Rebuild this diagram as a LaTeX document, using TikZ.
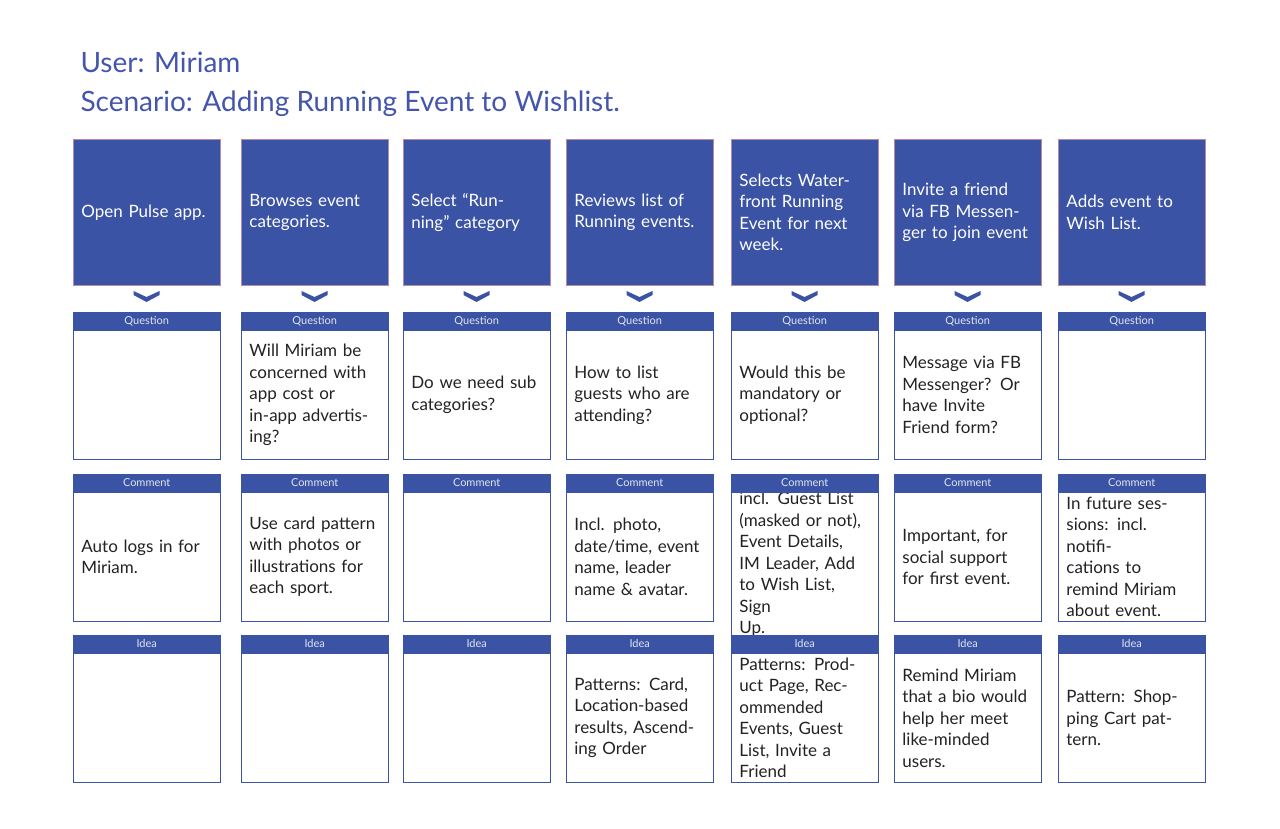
\documentclass[tikz,border=0pt]{standalone}
\usepackage{fontspec}
\setmainfont{Lato}
\usepackage{tikz}

\definecolor{PulseBlue}{HTML}{3A53A4}
\definecolor{TitleBlue}{HTML}{4355AC}
\definecolor{EdgePink}{HTML}{B88AA6}
\definecolor{BodyText}{HTML}{222222}

\tikzset{
  stepcard/.style={fill=PulseBlue, draw=EdgePink, line width=0.8pt, minimum width=147pt, minimum height=146pt,
    text width=131pt, align=left, text=white, font=\fontsize{17}{21.5}\selectfont, inner sep=0pt},
  cardhead/.style={fill=PulseBlue, draw=PulseBlue, minimum width=147pt, minimum height=18pt, inner sep=0pt,
    text=white!85!PulseBlue, font=\fontsize{11}{12}\selectfont},
  cardbody/.style={draw=PulseBlue, line width=0.8pt, minimum width=147pt, minimum height=129pt,
    text width=131pt, align=left, text=BodyText, font=\fontsize{17}{21.5}\selectfont, inner sep=0pt},
  chevron/.style={fill=PulseBlue, draw=none},
}

\begin{document}
\begin{tikzpicture}[x=1pt, y=-1pt]
	\useasboundingbox (0,0) rectangle (1280,828);

	\node[anchor=base west, text=TitleBlue, font=\fontsize{28}{30}\selectfont] (user) at (77,72) {User: Miriam};
	\node[anchor=base west, text=TitleBlue, font=\fontsize{28}{30}\selectfont] (scenario) at (77,111) {Scenario: Adding Running Event to Wishlist.};

	\foreach \k/\xl/\stp/\qs/\cm/\id in {
		1/73/{Open Pulse app.}/{}/{Auto logs in for\\Miriam.}/{},
		2/241/{Browses event\\categories.}/{Will Miriam be\\concerned with\\app cost or\\in-app advertis-\\ing?}/{Use card pattern\\with photos or\\illustrations for\\each sport.}/{},
		3/403/{Select “Run-\\ning” category}/{Do we need sub\\categories?}/{}/{},
		4/566/{Reviews list of\\Running events.}/{How to list\\guests who are\\attending?}/{Incl. photo,\\date/time, event\\name, leader\\name \& avatar.}/{Patterns: Card,\\Location-based\\results, Ascend-\\ing Order},
		5/731/{Selects Water-\\front Running\\Event for next\\week.}/{Would this be\\mandatory or\\optional?}/{incl. Guest List\\(masked or not),\\Event Details,\\IM Leader, Add\\to Wish List, Sign\\Up.}/{Patterns: Prod-\\uct Page, Rec-\\ommended\\Events, Guest\\List, Invite a\\Friend},
		6/894/{Invite a friend\\via FB Messen-\\ger to join event}/{Message via FB\\Messenger? Or\\have Invite\\Friend form?}/{Important, for\\social support\\for first event.}/{Remind Miriam\\that a bio would\\help her meet\\like-minded\\users.},
		7/1058/{Adds event to\\Wish List.}/{}/{In future ses-\\sions: incl. notifi-\\cations to\\remind Miriam\\about event.}/{Pattern: Shop-\\ping Cart pat-\\tern.}} {
		% step card and chevron
		\node[stepcard, anchor=north west] (step\k) at (\xl,139) {\stp};
		\fill[chevron] (\xl+60.5,291) -- (\xl+73.5,297) -- (\xl+86.5,291) -- (\xl+86.5,295) -- (\xl+73.5,302) -- (\xl+60.5,295) -- cycle;
		% question, comment, idea
		\node[cardbody, anchor=north west] (qbody\k) at (\xl,330) {\qs};
		\node[cardhead, anchor=south west] (qhead\k) at (\xl,330) {Question};
		\node[cardbody, anchor=north west] (cbody\k) at (\xl,492) {\cm};
		\node[cardhead, anchor=south west] (chead\k) at (\xl,492) {Comment};
		\node[cardbody, anchor=north west] (ibody\k) at (\xl,653) {\id};
		\node[cardhead, anchor=south west] (ihead\k) at (\xl,653) {Idea};
	}
\end{tikzpicture}
\end{document}
